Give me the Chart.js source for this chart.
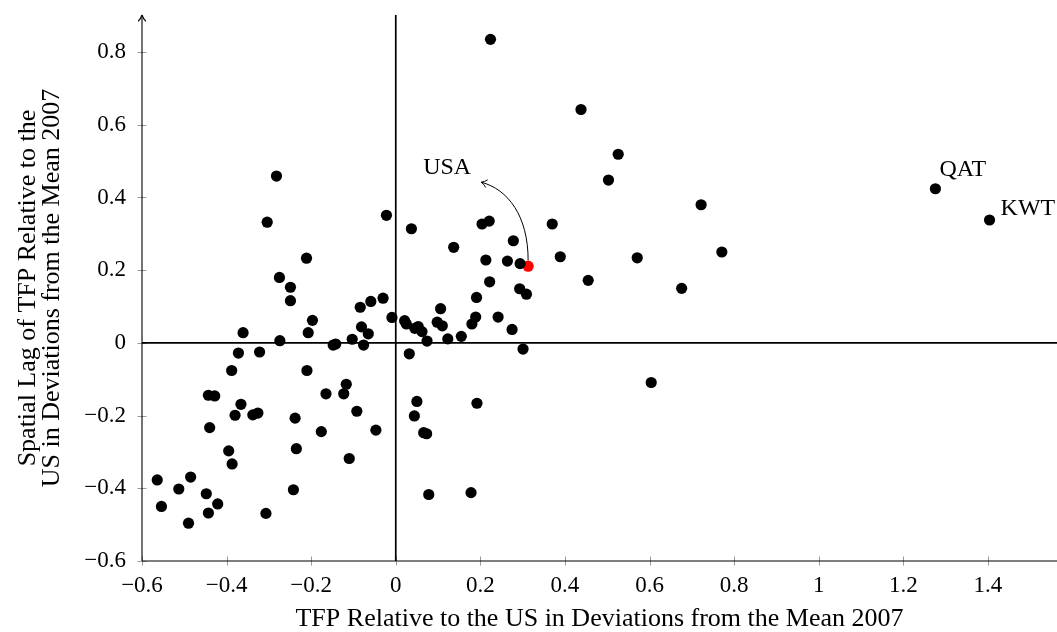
<!DOCTYPE html>
<html><head><meta charset="utf-8">
<script src="https://cdn.jsdelivr.net/npm/chart.js@4"></script>
<style>html,body{margin:0;padding:0;background:#fff;}</style>
</head><body>
<canvas id="c" width="1057" height="632"></canvas>
<script>
// ---- data ----
const tfpX = [-0.211,-0.275,-0.249,-0.249,-0.197,-0.361,-0.207,-0.274,-0.084,-0.059,
  -0.030,-0.009,-0.081,-0.065,-0.148,-0.142,-0.103,-0.076,-0.372,-0.322,
  -0.388,-0.210,-0.117,-0.123,-0.165,-0.443,-0.428,-0.366,-0.380,-0.338,
  -0.326,-0.092,-0.238,-0.440,-0.176,-0.047,-0.395,-0.387,-0.235,-0.110,
  -0.564,-0.485,-0.513,-0.448,-0.554,-0.421,-0.443,-0.490,-0.307,-0.242,
  -0.282,-0.304,-0.022,0.037,0.137,0.204,0.221,0.370,0.278,0.213,
  0.264,0.294,0.389,0.222,0.191,0.293,0.309,0.106,0.021,0.025,
  0.045,0.053,0.062,0.074,0.098,0.110,0.123,0.155,0.180,0.189,
  0.242,0.275,0.301,0.032,0.050,0.044,0.066,0.073,0.192,0.078,
  0.178,0.224,0.438,0.526,0.503,0.722,0.571,0.771,0.455,0.676,0.604];
const lagY = [0.233,0.180,0.153,0.116,0.062,0.028,0.028,0.006,0.098,0.114,
  0.123,0.070,0.044,0.025,-0.006,-0.003,0.010,-0.006,-0.028,-0.025,
  -0.076,-0.076,-0.114,-0.140,-0.140,-0.144,-0.146,-0.169,-0.199,-0.198,
  -0.193,-0.188,-0.207,-0.233,-0.244,-0.240,-0.297,-0.333,-0.291,-0.318,
  -0.377,-0.369,-0.402,-0.415,-0.450,-0.443,-0.468,-0.496,-0.469,-0.404,
  0.459,0.332,0.351,0.314,0.263,0.327,0.335,0.327,0.281,0.228,
  0.225,0.218,0.237,0.168,0.125,0.149,0.134,0.094,0.061,0.052,
  0.040,0.045,0.031,0.005,0.057,0.047,0.011,0.018,0.052,0.071,
  0.071,0.037,-0.017,-0.030,-0.161,-0.201,-0.247,-0.250,-0.166,-0.417,
  -0.412,0.835,0.642,0.519,0.448,0.380,0.234,0.250,0.172,0.150,-0.109];
const namedCountries = ['QAT','KWT'];
const namedX = [1.276, 1.404];
const namedY = [0.424, 0.338];
const usaName = 'USA';
const usaX = [0.313];
const usaY = [0.211];
const xTicks = [-0.6,-0.4,-0.2,0,0.2,0.4,0.6,0.8,1,1.2,1.4];
const yTicks = [-0.6,-0.4,-0.2,0,0.2,0.4,0.6,0.8];
const xTitle = 'TFP Relative to the US in Deviations from the Mean 2007';
const yTitle = ['Spatial Lag of TFP Relative to the','US in Deviations from the Mean 2007'];

const FONT = '"Liberation Serif", "Times New Roman", serif';
const fmt = v => v === 0 ? '0' : String(v).replace('-', '\u2212');

function toPoints(xs, ys){ return xs.map((x,i)=>({x, y: ys[i]})); }

function arrowHead(ctx, tx, ty, dx, dy, len, spread){
  const a = Math.atan2(dy, dx);
  ctx.beginPath();
  for (const s of [-1, 1]) {
    const ang = a + Math.PI - s*spread;
    const bx = tx + len*Math.cos(ang), by = ty + len*Math.sin(ang);
    const mx = tx + 0.5*len*Math.cos(a + Math.PI - s*spread*0.55);
    const my = ty + 0.5*len*Math.sin(a + Math.PI - s*spread*0.55);
    ctx.moveTo(bx, by);
    ctx.quadraticCurveTo(mx, my, tx, ty);
  }
  ctx.stroke();
}

const decor = {
  id: 'decor',
  beforeDatasetsDraw(chart){
    const {ctx, chartArea: a, scales: {x, y}} = chart;
    ctx.save();
    // tick marks (grey, crossing the axes)
    ctx.strokeStyle = '#9a9a9a'; ctx.lineWidth = 1;
    ctx.beginPath();
    yTicks.forEach(v => { const py = Math.round(y.getPixelForValue(v)) + 0.5;
      ctx.moveTo(a.left - 4.5, py); ctx.lineTo(a.left + 4.5, py); });
    xTicks.forEach(v => { const px = Math.round(x.getPixelForValue(v)) + 0.5;
      ctx.moveTo(px, a.bottom - 4.5); ctx.lineTo(px, a.bottom + 4.5); });
    ctx.stroke();
    // axis lines
    ctx.strokeStyle = '#000'; ctx.lineWidth = 1.1;
    ctx.beginPath();
    ctx.moveTo(a.left, a.bottom); ctx.lineTo(a.right, a.bottom);
    ctx.moveTo(a.left, a.bottom); ctx.lineTo(a.left, a.top);
    ctx.stroke();
    arrowHead(ctx, a.left, a.top, 0, -1, 7.5, 0.55);
    // zero lines
    ctx.lineWidth = 1.7;
    ctx.beginPath();
    const x0 = x.getPixelForValue(0), y0 = y.getPixelForValue(0);
    ctx.moveTo(x0, a.top); ctx.lineTo(x0, a.bottom);
    ctx.moveTo(a.left, y0); ctx.lineTo(a.right, y0);
    ctx.stroke();
    ctx.restore();
  },
  afterDatasetsDraw(chart){
    const {ctx, scales: {x, y}} = chart;
    ctx.save();
    ctx.fillStyle = '#000';
    ctx.font = '24px ' + FONT;
    ctx.textBaseline = 'alphabetic';
    ctx.textAlign = 'left';
    const offs = [[4, -12.5], [11, -5.5]];
    namedCountries.forEach((n, i) => {
      const px = x.getPixelForValue(namedX[i]), py = y.getPixelForValue(namedY[i]);
      ctx.fillText(n, px + offs[i][0], py + offs[i][1]);
    });
    // USA label with curved arrow
    const ux = x.getPixelForValue(usaX[0]), uy = y.getPixelForValue(usaY[0]);
    ctx.fillText(usaName, ux - 105, uy - 92);
    ctx.strokeStyle = '#000'; ctx.lineWidth = 1;
    ctx.beginPath();
    ctx.moveTo(ux, uy - 6);
    const c2x = ux - 20, c2y = uy - 77, ex = ux - 47, ey = uy - 84;
    ctx.bezierCurveTo(ux, uy - 50, c2x, c2y, ex, ey);
    ctx.stroke();
    arrowHead(ctx, ex, ey, ex - c2x, ey - c2y, 7, 0.6);
    ctx.restore();
  }
};

new Chart(document.getElementById('c'), {
  type: 'scatter',
  data: {
    datasets: [
      { label: 'Countries', data: toPoints(tfpX.concat(namedX), lagY.concat(namedY)),
        backgroundColor: '#000', borderWidth: 0, pointRadius: 5.6, pointHoverRadius: 5.6 },
      { label: usaName, data: toPoints(usaX, usaY),
        backgroundColor: '#ff0000', borderWidth: 0, pointRadius: 5.6, pointHoverRadius: 5.6 }
    ]
  },
  options: {
    responsive: false,
    animation: false,
    events: [],
    layout: { autoPadding: false, padding: { top: 15, right: 0, left: 0, bottom: 0 } },
    plugins: { legend: { display: false }, tooltip: { enabled: false } },
    scales: {
      x: {
        type: 'linear', min: -0.6, max: 1.5635,
        border: { display: false },
        grid: { display: false, drawTicks: false },
        afterBuildTicks: s => { s.ticks = xTicks.map(v => ({ value: v })); },
        afterFit: s => { s.height = 71; s.paddingLeft = 0; s.paddingRight = 0; },
        ticks: { color: '#000', font: { family: FONT, size: 23 }, padding: 11,
          maxRotation: 0, autoSkip: false, callback: v => fmt(v) },
        title: { display: true, text: xTitle, color: '#000',
          font: { family: FONT, size: 26, lineHeight: 1 }, padding: { top: 0, bottom: 0 } }
      },
      y: {
        type: 'linear', min: -0.6, max: 0.902,
        border: { display: false },
        grid: { display: false, drawTicks: false },
        afterBuildTicks: s => { s.ticks = yTicks.map(v => ({ value: v })); },
        afterFit: s => { s.width = 142; s.paddingTop = 0; s.paddingBottom = 0; },
        ticks: { color: '#000', font: { family: FONT, size: 23 }, padding: 16,
          autoSkip: false, callback: v => fmt(v) },
        title: { display: true, text: yTitle, color: '#000',
          font: { family: FONT, size: 26, lineHeight: 0.93 }, padding: { top: 16, bottom: 0 } }
      }
    }
  },
  plugins: [decor]
});
</script>
</body></html>
